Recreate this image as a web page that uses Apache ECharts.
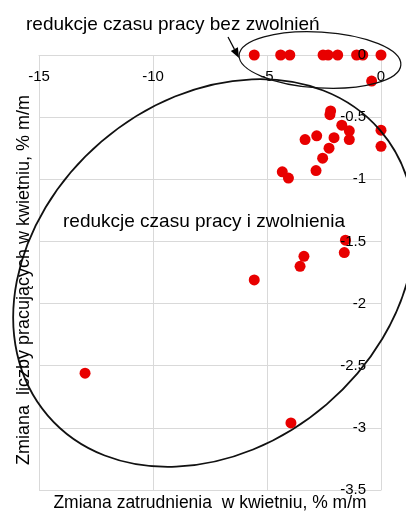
<!DOCTYPE html>
<html>
<head>
<meta charset="utf-8">
<script src="https://cdn.jsdelivr.net/npm/echarts@6/dist/echarts.min.js"></script>
<style>
  html, body { margin: 0; padding: 0; background: #fff; }
  #chart { width: 406px; height: 516px; }
</style>
</head>
<body>
<div id="chart"></div>
<script>
// zmiana zatrudnienia (x) i liczby pracujacych (y), % m/m
var xValues = [-5.56, -4.4, -4.0, -2.54, -2.32, -1.9, -1.07, -0.8, 0,
               -0.41,
               -2.21, -2.24, -1.72, -1.39, 0,
               -2.82, -2.06, -1.39, -3.33, 0,
               -2.28, -2.56, -2.85, -4.33, -4.06,
               -1.56, -1.61, -3.38, -3.55, -5.56,
               -12.98, -3.95];
var yValues = [0, 0, 0, 0, 0, 0, 0, 0, 0,
               -0.21,
               -0.45, -0.48, -0.565, -0.61, -0.605,
               -0.65, -0.665, -0.68, -0.68, -0.735,
               -0.75, -0.83, -0.93, -0.94, -0.99,
               -1.49, -1.59, -1.62, -1.70, -1.81,
               -2.56, -2.96];
var xRange = [-15, 0, 5];
var yRange = [-3.5, 0, 0.5];

var xTitle = 'Zmiana zatrudnienia  w kwietniu, % m/m';
var yTitle = 'Zmiana  liczby pracujących w kwietniu, % m/m';
var noteTop = 'redukcje czasu pracy bez zwolnień';
var noteMid = 'redukcje czasu pracy i zwolnienia';

var font = '"Liberation Sans", Arial, sans-serif';
var points = [];
for (var i = 0; i < xValues.length; i++) {
  points.push([xValues[i], yValues[i]]);
}

// arrowhead
var aFrom = [228, 37], aTo = [239, 58], headLen = 10, headW = 4;
var dx = aTo[0] - aFrom[0], dy = aTo[1] - aFrom[1];
var len = Math.sqrt(dx * dx + dy * dy);
dx /= len; dy /= len;
var base = [aTo[0] - dx * headLen, aTo[1] - dy * headLen];

function xAxisOf(showLines) {
  return {
    type: 'value', position: 'top',
    min: xRange[0], max: xRange[1], interval: xRange[2],
    z: showLines ? 0 : 10,
    axisLine: { show: showLines, lineStyle: { color: '#d9d9d9', width: 1 } },
    axisTick: { show: false },
    splitLine: { show: showLines, lineStyle: { color: '#d9d9d9', width: 1 } },
    axisLabel: { show: !showLines, inside: true, margin: 14, color: '#000',
                 fontSize: 15, fontFamily: font }
  };
}
function yAxisOf(showLines) {
  return {
    type: 'value', position: 'right',
    min: yRange[0], max: yRange[1], interval: yRange[2],
    z: showLines ? 0 : 10,
    axisLine: { show: showLines, lineStyle: { color: '#d9d9d9', width: 1 } },
    axisTick: { show: false },
    splitLine: { show: showLines, lineStyle: { color: '#d9d9d9', width: 1 } },
    axisLabel: { show: !showLines, inside: true, margin: 15, color: '#000',
                 fontSize: 15, fontFamily: font }
  };
}

var chart = echarts.init(document.getElementById('chart'), null, { renderer: 'canvas' });
chart.setOption({
  backgroundColor: '#fff',
  animation: false,
  grid: { left: 39, right: 25, top: 55, bottom: 26, containLabel: false },
  xAxis: [xAxisOf(true), xAxisOf(false)],
  yAxis: [yAxisOf(true), yAxisOf(false)],
  series: [{
    type: 'scatter',
    xAxisIndex: 0, yAxisIndex: 0,
    data: points,
    symbol: 'circle',
    symbolSize: 11,
    itemStyle: { color: '#e80000', opacity: 1 },
    z: 3
  }],
  graphic: [
    { type: 'ellipse', x: 214, y: 273, rotation: 0.709, z: 20,
      shape: { cx: 0, cy: 0, rx: 219, ry: 173 },
      style: { fill: 'none', stroke: '#111', lineWidth: 1.8 } },
    { type: 'ellipse', x: 320, y: 60, rotation: -0.06, z: 20,
      shape: { cx: 0, cy: 0, rx: 81, ry: 28 },
      style: { fill: 'none', stroke: '#111', lineWidth: 1.2 } },
    { type: 'line', z: 20,
      shape: { x1: aFrom[0], y1: aFrom[1], x2: base[0], y2: base[1] },
      style: { stroke: '#000', lineWidth: 1.2 } },
    { type: 'polygon', z: 20,
      shape: { points: [aTo,
        [base[0] + dy * headW, base[1] - dx * headW],
        [base[0] - dy * headW, base[1] + dx * headW]] },
      style: { fill: '#000' } },
    { type: 'text', x: 26, y: 25, z: 20,
      style: { text: noteTop, font: '19px ' + font, fill: '#000',
               textAlign: 'left', textVerticalAlign: 'middle' } },
    { type: 'text', x: 63, y: 222, z: 20,
      style: { text: noteMid, font: '19px ' + font, fill: '#000',
               textAlign: 'left', textVerticalAlign: 'middle' } },
    { type: 'text', x: 210, y: 503, z: 20,
      style: { text: xTitle, font: '17.5px ' + font, fill: '#000',
               textAlign: 'center', textVerticalAlign: 'middle' } },
    { type: 'text', x: 24, y: 280, rotation: Math.PI / 2, z: 20,
      style: { text: yTitle, font: '18px ' + font, fill: '#000',
               textAlign: 'center', textVerticalAlign: 'middle' } }
  ]
});
</script>
</body>
</html>
